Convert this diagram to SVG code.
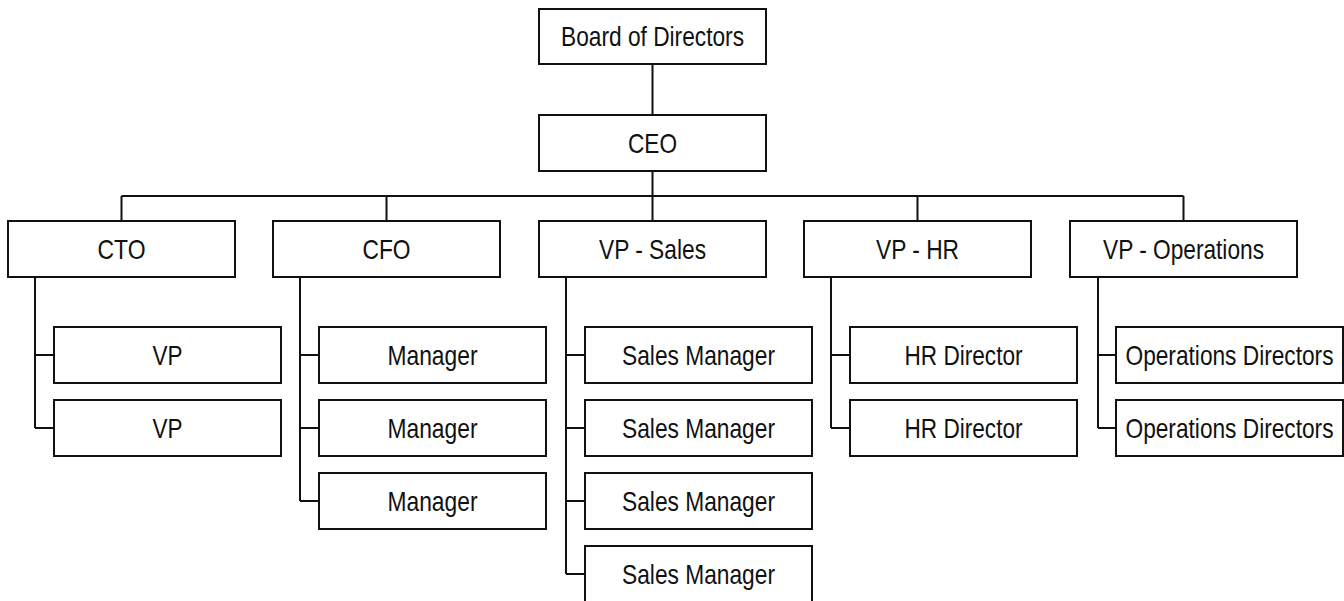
<svg xmlns="http://www.w3.org/2000/svg" width="1344" height="601" viewBox="0 0 1344 601">
  <style>
    .box { fill: #ffffff; stroke: #111111; stroke-width: 2; }
    .lbl { font-family: "Liberation Sans Narrow", "Arial Narrow", "Liberation Sans", Arial, sans-serif; font-size: 27.5px; fill: #111111; text-anchor: middle; }
    .wire { fill: none; stroke: #111111; stroke-width: 2; }
  </style>
  <rect width="1344" height="601" fill="#ffffff"/>

  <g id="connectors" class="wire">
    <!-- board to CEO, CEO to bus -->
    <path d="M652.5 64 V115 M652.5 171 V196"/>
    <path d="M121.5 196 H1183.5"/>
    <path d="M121.5 196 V221 M386.5 196 V221 M652.5 196 V221 M917.5 196 V221 M1183.5 196 V221"/>
    <!-- CTO branch -->
    <path d="M35 277 V428 M35 355 H54 M35 428 H54"/>
    <!-- CFO branch -->
    <path d="M300 277 V501 M300 355 H319 M300 428 H319 M300 501 H319"/>
    <!-- Sales branch -->
    <path d="M566 277 V574 M566 355 H585 M566 428 H585 M566 501 H585 M566 574 H585"/>
    <!-- HR branch -->
    <path d="M831 277 V428 M831 355 H850 M831 428 H850"/>
    <!-- Operations branch -->
    <path d="M1098 277 V428 M1098 355 H1116 M1098 428 H1116"/>
  </g>

  <g id="board"><rect class="box" x="539" y="9" width="227" height="55"/><text class="lbl" x="652.5" y="46" textLength="183" lengthAdjust="spacingAndGlyphs">Board of Directors</text></g>
  <g id="ceo"><rect class="box" x="539" y="115" width="227" height="56"/><text class="lbl" x="652.5" y="153" textLength="49" lengthAdjust="spacingAndGlyphs">CEO</text></g>

  <g id="cto"><rect class="box" x="8" y="221" width="227" height="56"/><text class="lbl" x="121.5" y="259" textLength="48" lengthAdjust="spacingAndGlyphs">CTO</text></g>
  <g id="cfo"><rect class="box" x="273" y="221" width="227" height="56"/><text class="lbl" x="386.5" y="259" textLength="48" lengthAdjust="spacingAndGlyphs">CFO</text></g>
  <g id="vp-sales"><rect class="box" x="539" y="221" width="227" height="56"/><text class="lbl" x="652.5" y="259" textLength="107" lengthAdjust="spacingAndGlyphs">VP - Sales</text></g>
  <g id="vp-hr"><rect class="box" x="804" y="221" width="227" height="56"/><text class="lbl" x="917.5" y="259" textLength="83" lengthAdjust="spacingAndGlyphs">VP - HR</text></g>
  <g id="vp-operations"><rect class="box" x="1070" y="221" width="227" height="56"/><text class="lbl" x="1183.5" y="259" textLength="161" lengthAdjust="spacingAndGlyphs">VP - Operations</text></g>

  <g id="cto-vp-1"><rect class="box" x="54" y="327" width="227" height="56"/><text class="lbl" x="167.5" y="365" textLength="30" lengthAdjust="spacingAndGlyphs">VP</text></g>
  <g id="cto-vp-2"><rect class="box" x="54" y="400" width="227" height="56"/><text class="lbl" x="167.5" y="438" textLength="30" lengthAdjust="spacingAndGlyphs">VP</text></g>

  <g id="cfo-manager-1"><rect class="box" x="319" y="327" width="227" height="56"/><text class="lbl" x="432.5" y="365" textLength="90" lengthAdjust="spacingAndGlyphs">Manager</text></g>
  <g id="cfo-manager-2"><rect class="box" x="319" y="400" width="227" height="56"/><text class="lbl" x="432.5" y="438" textLength="90" lengthAdjust="spacingAndGlyphs">Manager</text></g>
  <g id="cfo-manager-3"><rect class="box" x="319" y="473" width="227" height="56"/><text class="lbl" x="432.5" y="511" textLength="90" lengthAdjust="spacingAndGlyphs">Manager</text></g>

  <g id="sales-manager-1"><rect class="box" x="585" y="327" width="227" height="56"/><text class="lbl" x="698.5" y="365" textLength="153" lengthAdjust="spacingAndGlyphs">Sales Manager</text></g>
  <g id="sales-manager-2"><rect class="box" x="585" y="400" width="227" height="56"/><text class="lbl" x="698.5" y="438" textLength="153" lengthAdjust="spacingAndGlyphs">Sales Manager</text></g>
  <g id="sales-manager-3"><rect class="box" x="585" y="473" width="227" height="56"/><text class="lbl" x="698.5" y="511" textLength="153" lengthAdjust="spacingAndGlyphs">Sales Manager</text></g>
  <g id="sales-manager-4"><rect class="box" x="585" y="546" width="227" height="56"/><text class="lbl" x="698.5" y="584" textLength="153" lengthAdjust="spacingAndGlyphs">Sales Manager</text></g>

  <g id="hr-director-1"><rect class="box" x="850" y="327" width="227" height="56"/><text class="lbl" x="963.5" y="365" textLength="118" lengthAdjust="spacingAndGlyphs">HR Director</text></g>
  <g id="hr-director-2"><rect class="box" x="850" y="400" width="227" height="56"/><text class="lbl" x="963.5" y="438" textLength="118" lengthAdjust="spacingAndGlyphs">HR Director</text></g>

  <g id="operations-directors-1"><rect class="box" x="1116" y="327" width="227" height="56"/><text class="lbl" x="1229.5" y="365" textLength="208" lengthAdjust="spacingAndGlyphs">Operations Directors</text></g>
  <g id="operations-directors-2"><rect class="box" x="1116" y="400" width="227" height="56"/><text class="lbl" x="1229.5" y="438" textLength="208" lengthAdjust="spacingAndGlyphs">Operations Directors</text></g>
</svg>
